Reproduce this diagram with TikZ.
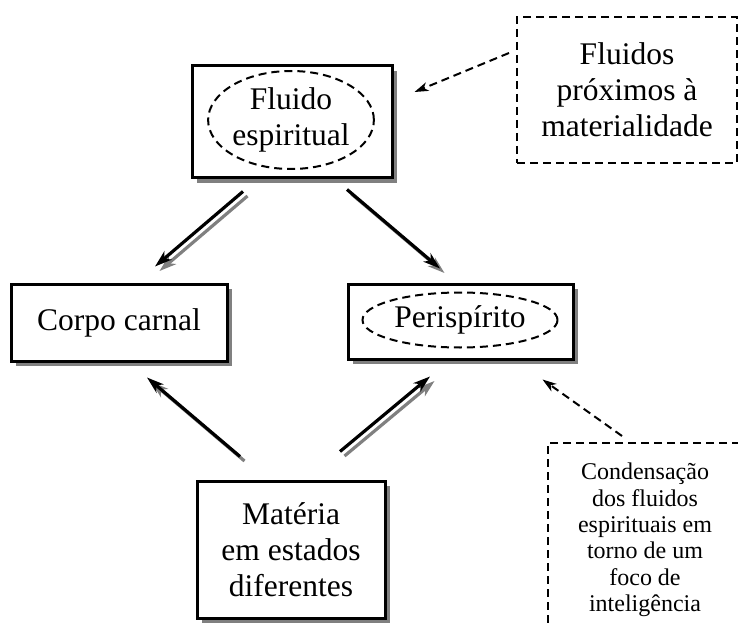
\documentclass[tikz,border=0pt]{standalone}
\usepackage{fontspec}
\setmainfont{Liberation Serif}
\usetikzlibrary{shapes.geometric,arrows.meta,shadows,calc}
\newcommand{\shadowedarrow}[2]{%
  \begin{scope}[transform canvas={shift={(4.5pt,-4.5pt)}}]
    \draw[solidarrow, draw=gray] #1 -- #2;
  \end{scope}
  \draw[solidarrow] #1 -- #2;}
\begin{document}
\begin{tikzpicture}[x=1pt,y=-1pt,
  bigtext/.style={font=\fontsize{31.5}{36}\selectfont},
  smalltext/.style={font=\fontsize{24}{26.3}\selectfont},
  box/.style={draw, line width=3pt, fill=white,
    drop shadow={shadow xshift=5pt, shadow yshift=-5pt, fill=gray, opacity=1},
    inner sep=0pt, bigtext, align=center},
  dbox/.style={draw, dash pattern=on 8pt off 5pt, line width=2pt,
    inner sep=0pt, align=center},
  ell/.style={ellipse, draw, dash pattern=on 8pt off 5pt, line width=2pt,
    inner sep=0pt, bigtext, align=center},
  solidarrow/.style={line width=3.2pt, -{Stealth[length=17pt,width=11pt,inset=5pt]}},
  dasharrow/.style={line width=2pt, dash pattern=on 8pt off 5pt,
    -{Stealth[length=14pt,width=9pt,inset=4pt]}}
]
\useasboundingbox (0,0) rectangle (738,628);
\clip (0,0) rectangle (738,628);

% boxes
\node[box, minimum width=200pt, minimum height=112pt] (fl) at (292,122) {};
\node[ell, minimum width=158pt, minimum height=98pt] (fle) at (291,120) {Fluido\\espiritual};

\node[dbox, bigtext, minimum width=220pt, minimum height=146pt] (fp) at (627,90)
  {Fluidos\\próximos à\\materialidade};

\node[box, minimum width=216pt, minimum height=77pt] (cc) at (119,322.5) {Corpo carnal};

\node[box, minimum width=225pt, minimum height=75pt] (pe) at (460.5,321.5) {};
\node[ell, minimum width=195pt, minimum height=55pt] (pee) at (460,320) {Perispírito};

\node[box, minimum width=188pt, minimum height=137pt] (ma) at (291,549.5)
  {Matéria\\em estados\\diferentes};

\node[dbox, smalltext, minimum width=194pt, minimum height=194pt] (co) at (645,540)
  {Condensação\\dos fluidos\\espirituais em\\torno de um\\foco de\\inteligência};

% solid arrows with gray shadow
\shadowedarrow{($(fl.south)+(-49,12)$)}{($(cc.north)+(36,-16)$)}
\shadowedarrow{($(fl.south)+(55,10)$)}{($(pe.north)+(-20.5,-14)$)}
\shadowedarrow{($(ma.north)+(-51,-23)$)}{($(cc.south)+(28,15)$)}
\shadowedarrow{($(ma.north)+(49,-28)$)}{($(pe.south)+(-30.5,16)$)}

% dashed arrows
\draw[dasharrow] ($(fp.west)+(-7,-37)$) -- ($(fl.east)+(21,-30)$);
\draw[dasharrow] ($(co.north)+(-23,-6)$) -- ($(pe.south east)+(-32,19)$);
\end{tikzpicture}
\end{document}
